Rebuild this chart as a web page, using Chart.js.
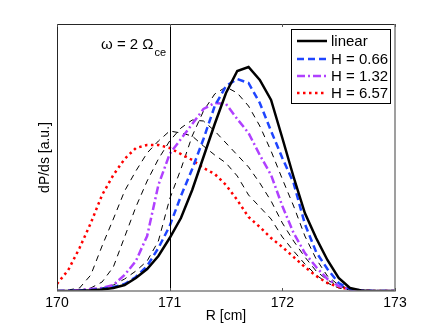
<!DOCTYPE html>
<html><head><meta charset="utf-8">
<script src="https://cdn.jsdelivr.net/npm/chart.js@4/dist/chart.umd.min.js"></script>
<style>html,body{margin:0;padding:0;background:#fff;}canvas{display:block;}</style>
</head><body>
<canvas id="c" width="436" height="328"></canvas>
<script>
// Radius samples [cm]
const R = [170.0,170.1,170.2,170.3,170.4,170.5,170.6,170.7,170.8,170.9,
           171.0,171.1,171.2,171.3,171.4,171.5,171.6,171.7,171.8,171.9,
           172.0,172.1,172.2,172.3,172.4,172.5,172.6,172.7,172.8,172.9,173.0];
const xTicks = [170,171,172,173];
const vlineR = 171;
const annotationMain = 'ω = 2 Ω';
const annotationSub = 'ce';
const legendLabels = ['linear','H = 0.66','H = 1.32','H = 6.57'];

const linearP = [0,0,0.3,0.7,1.5,3,6,13,22,35,53,73,101,134,167,198,220,224,211,191,153,114,78,53,31,13,3,0.5,0,0,0];
const h066    = [0,0,0.5,1,2,4,7,14,25,43,65,95,122,152,185,205,212,208,188,160,133,108,67,39,22,8,2,0.5,0,0,0];
const dashC   = [0,0,0.5,1.5,3,6,12,20,30,50,92,122,155,180,197,204,198,185,165,140,112,85,55,32,15,6,2,0.5,0,0,0];
const h132    = [0,0.3,1,2,3,6,16,30,55,106,137,152,167,182,188,187,172,158,136,116,85,58,38,24,12,5,1.5,0.5,0,0,0];
const dashB   = [0,0.5,1,3,9,24,54,84,110,132,150,163,171,170,160,148,136,124,108,90,68,50,34,20,11,5,1.5,0.5,0,0,0];
const dashA   = [0,1,3,16,45,72,100,120,138,150,160,158,155,145,136,128,115,96,84,72,54,40,27,16,8,3,1,0.3,0,0,0];
const h657    = [7,21,43,68,96,116,132,143,146,146,143,137,131,123,117,106,91,74,64,53,44,34,24,15,8,4,1.5,0.5,0,0,0];

const pts = arr => arr.map((v,i)=>({x:R[i], y:v}));
const FONT = '"Liberation Sans", Arial, Helvetica, sans-serif';

const datasets = [
  {label:legendLabels[0], data:pts(linearP), borderColor:'#000', borderWidth:2.5, borderDash:[]},
  {label:legendLabels[1], data:pts(h066), borderColor:'#1f45ff', borderWidth:2.5, borderDash:[7,4]},
  {label:legendLabels[2], data:pts(h132), borderColor:'#b040ff', borderWidth:2.5, borderDash:[8,3,2,3]},
  {label:legendLabels[3], data:pts(h657), borderColor:'#ff0000', borderWidth:2.5, borderDash:[2.5,3.5]},
  {label:'', data:pts(dashC), borderColor:'#000', borderWidth:1, borderDash:[6,5]},
  {label:'', data:pts(dashB), borderColor:'#000', borderWidth:1, borderDash:[6,5]},
  {label:'', data:pts(dashA), borderColor:'#000', borderWidth:1, borderDash:[6,5]},
];
datasets.forEach(d=>{d.fill=false; d.pointRadius=0; d.tension=0; d.borderCapStyle='butt';});

const frame = {
  id:'frame',
  afterDatasetsDraw(chart){
    const {ctx, chartArea:a, scales:{x}} = chart;
    ctx.save();
    const vx = Math.round(x.getPixelForValue(vlineR))+0.5;
    ctx.strokeStyle='#000'; ctx.lineWidth=1; ctx.setLineDash([]);
    ctx.beginPath(); ctx.moveTo(vx,a.top); ctx.lineTo(vx,a.bottom); ctx.stroke();
    ctx.strokeStyle='#262626'; ctx.lineWidth=1;
    ctx.beginPath();
    ctx.moveTo(a.left+0.5,a.bottom); ctx.lineTo(a.left+0.5,a.top+0.5); ctx.lineTo(a.right,a.top+0.5);
    ctx.stroke();
    ctx.strokeStyle='#808080'; ctx.lineWidth=1.5;
    ctx.beginPath();
    ctx.moveTo(a.left,a.bottom); ctx.lineTo(a.right,a.bottom); ctx.lineTo(a.right,a.top);
    ctx.stroke();
    ctx.strokeStyle='#555'; ctx.lineWidth=1;
    xTicks.forEach(t=>{
      const px = Math.round(x.getPixelForValue(t))+0.5;
      ctx.beginPath(); ctx.moveTo(px,a.bottom); ctx.lineTo(px,a.bottom-3);
      ctx.moveTo(px,a.top); ctx.lineTo(px,a.top+3); ctx.stroke();
    });
    ctx.fillStyle='#000'; ctx.textBaseline='alphabetic'; ctx.textAlign='left';
    ctx.font='15px '+FONT;
    ctx.fillText(annotationMain, 101, 49);
    const w = ctx.measureText(annotationMain).width;
    ctx.font='11px '+FONT;
    ctx.fillText(annotationSub, 101+w+1, 56);
    const L = {x:291, y:29, w:99, h:74};
    ctx.fillStyle='#fff'; ctx.fillRect(L.x,L.y,L.w,L.h);
    ctx.strokeStyle='#000'; ctx.lineWidth=1;
    ctx.strokeRect(L.x+0.5,L.y+0.5,L.w,L.h);
    const rows=[41,59,76,93];
    ctx.font='15px '+FONT; ctx.textBaseline='middle';
    for(let i=0;i<legendLabels.length;i++){
      const d = chart.data.datasets[i];
      ctx.strokeStyle=d.borderColor; ctx.lineWidth=d.borderWidth; ctx.setLineDash(d.borderDash);
      ctx.beginPath(); ctx.moveTo(297,rows[i]); ctx.lineTo(327,rows[i]); ctx.stroke();
      ctx.setLineDash([]);
      ctx.fillStyle='#000';
      ctx.fillText(d.label, 331, rows[i]+1);
    }
    ctx.restore();
  }
};

new Chart(document.getElementById('c'), {
  type:'line',
  data:{datasets},
  options:{
    responsive:false, animation:false,
    layout:{padding:{top:24,right:41,bottom:0,left:0}},
    plugins:{legend:{display:false}, tooltip:{enabled:false}},
    scales:{
      x:{type:'linear', min:170, max:173,
         afterBuildTicks(s){ s.ticks = xTicks.map(v=>({value:v})); },
         ticks:{font:{family:FONT,size:14}, color:'#000', padding:4, maxRotation:0},
         grid:{display:false, drawTicks:false}, border:{display:false},
         title:{display:true, text:'R [cm]', color:'#000', font:{family:FONT,size:14}, padding:{top:0,bottom:3}},
         afterFit(s){ s.height=37; }},
      y:{min:0, max:267,
         ticks:{display:false}, grid:{display:false, drawTicks:false}, border:{display:false},
         title:{display:true, text:'dP/ds [a.u.]', color:'#000', font:{family:FONT,size:14}, padding:{top:37,bottom:0}},
         afterFit(s){ s.width=57; }}
    }
  },
  plugins:[frame]
});
</script>
</body></html>
